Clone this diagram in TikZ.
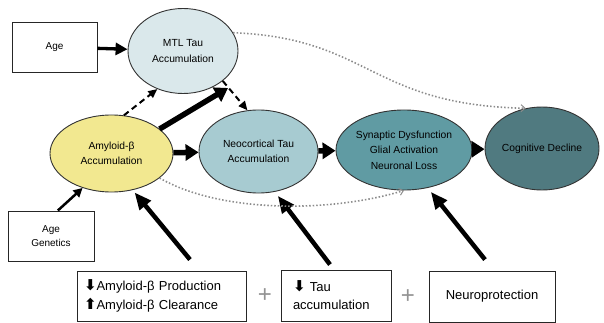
\documentclass[tikz,border=0pt]{standalone}
\usepackage{fontspec}
\setmainfont{Liberation Sans}
\newfontfamily\symfont{DejaVu Sans}
\usepackage{tikz}
\usetikzlibrary{arrows.meta}
\usetikzlibrary{shapes.geometric}

\definecolor{mtlfill}{HTML}{DAE8EB}
\definecolor{amyfill}{HTML}{F2E890}
\definecolor{neofill}{HTML}{A7CBD1}
\definecolor{synfill}{HTML}{609BA3}
\definecolor{cogfill}{HTML}{507A80}
\definecolor{rim}{HTML}{333333}
\newcommand{\arrdn}{{\symfont\bfseries\fontsize{15}{15}\selectfont ⬇}}
\newcommand{\arrup}{{\symfont\bfseries\fontsize{15}{15}\selectfont ⬆}}

\begin{document}
\begin{tikzpicture}[x=1pt,y=-1pt]
		\tikzstyle{stage}=[ellipse,draw=rim,line width=0.9pt,inner sep=0pt,align=center,
			font=\fontsize{10.3}{15.5}\selectfont];
		\tikzstyle{factor}=[rectangle,draw=black!85,line width=0.9pt,inner sep=0pt];
		\tikzstyle{fat}=[line width=5.5pt,-{Triangle[length=13pt,width=16pt]}];
		\tikzstyle{push}=[line width=4.5pt,-{Triangle[length=17pt,width=14pt]}];
		\tikzstyle{mid}=[line width=3.3pt,-{Triangle[length=12pt,width=12pt]}];
		\tikzstyle{slim}=[line width=2.5pt,-{Triangle[length=9pt,width=9pt]}];
		\tikzstyle{dashlink}=[line width=2pt,dash pattern=on 6pt off 4pt,-{Triangle[length=9pt,width=8pt]}];
		\tikzstyle{faint}=[gray!90,line width=1.6pt,dash pattern=on 1.5pt off 2pt,
			-{Straight Barb[length=4pt,width=7pt,line width=1pt]}];
		\tikzstyle{plus}=[text=gray!85,font=\fontsize{24}{24}\selectfont];
		\useasboundingbox (0,0) rectangle (604,323);

		\node[stage,fill=mtlfill,minimum width=110pt,minimum height=85pt](mtl) at (183,51){MTL Tau\\Accumulation};
		\node[stage,fill=amyfill,minimum width=123pt,minimum height=77pt](amy) at (111.5,153.5){Amyloid-β\\Accumulation};
		\node[stage,fill=neofill,minimum width=119pt,minimum height=83pt](neo) at (258.5,151.5){Neocortical Tau\\Accumulation};
		\node[stage,fill=synfill,minimum width=120pt,minimum height=80pt](syn) at (404,150){Synaptic Dysfunction\\Glial Activation\\Neuronal Loss};
		\node[stage,fill=cogfill,minimum width=114pt,minimum height=83pt](cog) at (542,148.5){Cognitive Decline};

		\node[factor,minimum width=85pt,minimum height=50pt,font=\fontsize{10}{14}\selectfont](age) at (54.5,47){Age};
		\node[factor,minimum width=86pt,minimum height=50pt,align=center,font=\fontsize{10}{14}\selectfont](agen) at (51,236){Age\\Genetics};
		\node[factor,text width=155pt,inner xsep=7pt,minimum height=50pt,align=left,
			font=\fontsize{13}{19}\selectfont](bamy) at (161.5,296){\arrdn Amyloid-β Production\\\arrup Amyloid-β Clearance};
		\node[factor,text width=86pt,inner xsep=12pt,minimum height=51pt,align=left,
			font=\fontsize{13}{18}\selectfont](btau) at (336,295.5){\arrdn\ Tau\\accumulation};
		\node[factor,minimum width=126pt,minimum height=51pt,font=\fontsize{13}{18}\selectfont](bneu) at (492,296.5){Neuroprotection};
		\node[plus](p1) at (265,296){+};
		\node[plus](p2) at (408,297){+};
		\coordinate(mtltip) at (228,88);

		\draw[mid](age)--(mtl);
		\draw[dashlink](amy.72)--(mtl.236);
		\draw[fat](amy.27)--(mtltip);
		\draw[dashlink](mtl.323)--(neo.105);
		\draw[fat](amy)--(neo);
		\draw[fat](neo)--(syn);
		\draw[fat](syn)--(cog);
		\draw[slim](agen.75)--(amy.230);
		\draw[push,shorten >=3pt]([xshift=28.5pt,yshift=11pt]bamy.north)--(amy.300);
		\draw[push,shorten >=5pt]([xshift=-6pt,yshift=5pt]btau.north)--(neo.292);
		\draw[push,shorten >=5pt]([xshift=-7pt,yshift=11pt]bneu.north)--(syn.302);
		\draw[faint](mtl.20) .. controls (370,38) and (370,105) .. (cog.112);
		\draw[faint](amy.333) .. controls (220,213) and (330,213) .. (syn.270);
	\end{tikzpicture}
\end{document}
